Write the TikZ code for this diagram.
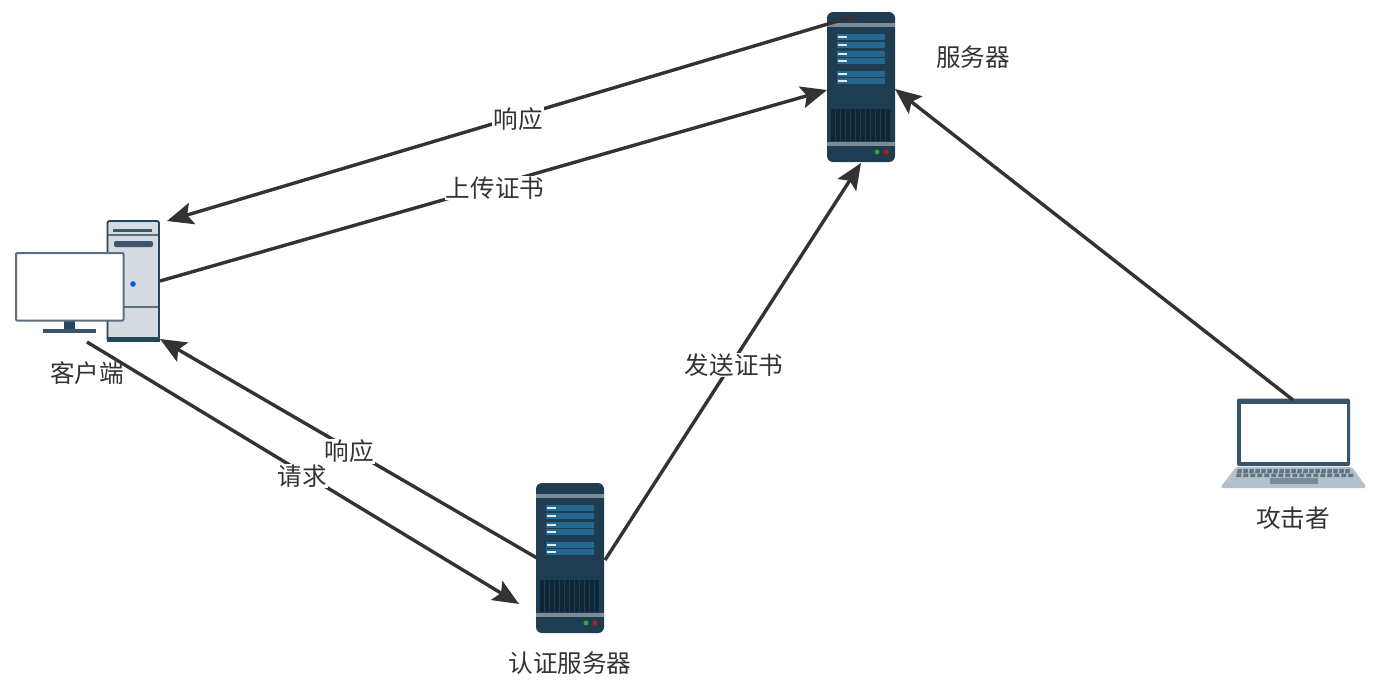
\documentclass[tikz,border=0pt]{standalone}
\usepackage{fontspec}
\setmainfont{Noto Sans CJK SC}
\usetikzlibrary{arrows.meta}
\definecolor{inkgray}{HTML}{333333}
\definecolor{rackdark}{HTML}{1F3D50}
\definecolor{rackband}{HTML}{7D8C96}
\definecolor{rackbar}{HTML}{24688F}
\definecolor{rackgrill}{HTML}{0E2635}
\definecolor{caseface}{HTML}{D5DBE1}
\definecolor{caseedge}{HTML}{26445A}
\definecolor{screenedge}{HTML}{5B6F7F}
\definecolor{lapedge}{HTML}{37566E}
\definecolor{lapbase}{HTML}{B4C1CA}
\definecolor{lapkey}{HTML}{5F7586}
\tikzset{
	link/.style={draw=inkgray,line width=1.7pt,-{Stealth[length=13pt,width=11pt,inset=2.5pt]}},
	tag/.style={font=\fontsize{12.3}{14}\selectfont,text=inkgray,inner sep=0.5pt,fill=white},
	rackserver/.pic={
		\fill[rackdark] (0,0) [rounded corners=3pt] rectangle (68,150);
		\fill[rackband] (0,11) rectangle (68,15);
		\fill[rackband] (0,130) rectangle (68,134);
		\foreach \y in {22,30,39,46,59,66}{
			\fill[rackbar] (10,\y) rectangle (58,\y+6.4);
			\fill[white!85!rackbar] (11,\y+2.2) rectangle (20,\y+4.2);
		}
		\fill[rackgrill] (4,97) rectangle (63,129);
		\foreach \x in {8,13,...,60}
		\draw[rackdark,line width=0.5pt] (\x,97)--(\x,129);
		\fill[green!55!black!80] (50,140) circle(2.5);
		\fill[red!70!black!90] (59,140) circle(2.5);
	}
}
\begin{document}
\begin{tikzpicture}[x=0.5pt,y=-0.5pt,line join=round]
	\useasboundingbox (0,0) rectangle (1380,682);
	% arrow ends
	\coordinate (SA) at (858,15);
	\coordinate (SB) at (827,90);
	\coordinate (SC) at (861,163);
	\coordinate (SD) at (895,89);
	\coordinate (CA) at (167,221);
	\coordinate (CB) at (160,281);
	\coordinate (CC) at (160,339);
	\coordinate (CD) at (87,342);
	\coordinate (AA) at (537,558);
	\coordinate (AB) at (519,604);
	\coordinate (AC) at (605,560);
	\coordinate (L) at (1293,400);
	% the two racks
	\pic at (827,12) {rackserver};
	\pic at (536,483) {rackserver};
	% desktop tower
	\draw[caseedge,fill=caseface,line width=0.9pt,rounded corners=1pt] (107.5,221) rectangle (159,341);
	\fill[caseedge] (107,337) rectangle (159.5,342);
	\draw[screenedge,line width=0.7pt] (108,235)--(158,235) (108,307)--(158,307);
	\fill[caseedge!90] (113,229) rectangle (152,232);
	\fill[caseedge!90,rounded corners=1pt] (114,241) rectangle (153,247);
	\fill[blue!60!cyan!90!black] (133,284) circle(2.8);
	% desktop monitor
	\fill[caseedge] (64,320) rectangle (75,330);
	\fill[lapedge] (43,329) rectangle (96,333);
	\draw[screenedge,fill=white,line width=1pt,rounded corners=0.5pt] (16,253) rectangle (123.5,320.5);
	% laptop
	\fill[lapbase,rounded corners=1.5pt] (1236,467) -- (1352,467) -- (1367,488) -- (1220,488) -- cycle;
	\foreach \x in {1237,1243,...,1350}
	\fill[lapkey] (\x+0.5,469)--(\x+5,469)--(\x+4.6,473)--(\x+0.1,473)--cycle;
	\foreach \x in {1236,1243,...,1350}
	\fill[lapkey] (\x+0.5,473.6)--(\x+5.5,473.6)--(\x+5.2,477)--(\x+0.2,477)--cycle;
	\fill[rackband!85!gray] (1270,478) rectangle (1318,484);
	\fill[lapedge,rounded corners=1pt] (1237,398.5) rectangle (1350,466);
	\fill[white] (1240.7,404) rectangle (1346.7,462);
	% connections
	\draw[link] (SA)--(CA);
	\draw[link] (CB)--(SB);
	\draw[link] (AC)--(SC);
	\draw[link] (L)--(SD);
	\draw[link] (CD)--(AB);
	\draw[link] (AA)--(CC);
	% labels
	\node[tag] (serverresp) at (518,119) {响应};
	\node[tag] (upload) at (495,188) {上传证书};
	\node[tag] (send) at (734,365) {发送证书};
	\node[tag] (authresp) at (349,451) {响应};
	\node[tag] (request) at (302,476) {请求};
	\node[tag,fill=none] (client) at (87,373) {客户端};
	\node[tag,fill=none] (server) at (973,57) {服务器};
	\node[tag,fill=none] (auth) at (570,663) {认证服务器};
	\node[tag,fill=none] (attacker) at (1293,518) {攻击者};
\end{tikzpicture}
\end{document}
